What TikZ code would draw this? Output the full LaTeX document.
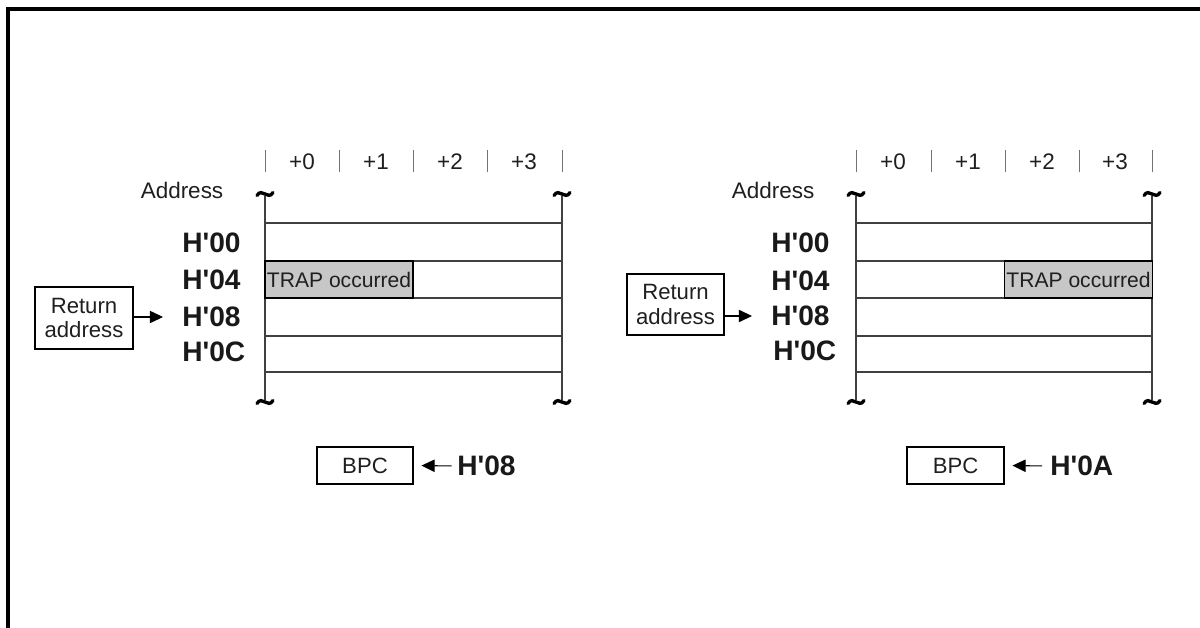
\documentclass[tikz,border=0pt]{standalone}
\usepackage{fontspec}
\setmainfont{Liberation Sans}
\usetikzlibrary{arrows.meta}
\newcommand{\hx}[1]{H\textquotesingle#1}
\begin{document}
\begin{tikzpicture}[x=0.02cm,y=-0.02cm,>={Triangle[length=7.5pt,width=7pt]},
	memline/.style={line width=0.6pt,black!75},
	colmark/.style={line width=0.5pt,black!55},
	wave/.style={line width=1.9pt,line cap=round},
	txt/.style={font=\fontsize{12.8}{14.2}\selectfont,inner sep=0pt,text=black!88},
	hexval/.style={font=\fontsize{16}{18}\selectfont\bfseries,inner sep=0pt,anchor=west,text=black!90},
	framebox/.style={draw,line width=0.6pt,inner sep=0pt,font=\fontsize{12.6}{14.2}\selectfont,align=center,text=black!88},
	trapbox/.style={draw,line width=0.8pt,fill=black!22,inner sep=0pt,minimum width=2.96cm,minimum height=0.74cm,font=\fontsize{12}{13}\selectfont,text=black!88}]
		\clip (0,0) rectangle (1200,628);
		\draw[line width=2pt] (8,9) rectangle (1230,660);
		% left memory map
		\foreach \x in {265,339,413,487,562} \draw[colmark] (\x,150)--(\x,172);
		\foreach \x/\t in {302/+0,376/+1,450/+2,524/+3} \node[txt] (colL\t) at (\x,162) {\t};
		\draw[memline] (265,196)--(265,400) (562,196)--(562,400);
		\foreach \y in {223,261,298,336,372} \draw[memline] (265,\y)--(562,\y);
		\foreach \x/\y in {265/194,562/194,265/402,562/402}
			\draw[wave] (\x-8,\y+1.5) .. controls (\x-3,\y-7) and (\x+3,\y+7) .. (\x+8,\y-1.5);
		\node[trapbox] (trapL) at (339,279.5) {TRAP occurred};
		\node[txt] (addrL) at (182,190) {Address};
		\node[hexval] (h00L) at (182,243) {\hx{00}};
		\node[hexval] (h04L) at (182,280) {\hx{04}};
		\node[hexval] (h08L) at (182,317) {\hx{08}};
		\node[hexval] (h0cL) at (182,352) {\hx{0C}};
		\node[framebox,minimum width=1.96cm,minimum height=1.24cm] (retL) at (84,318) {Return\\address};
		\draw[->,line width=0.6pt,shorten >=10.8pt] (retL.east |- h08L.west)--(h08L.west);
		\node[framebox,minimum width=1.92cm,minimum height=0.74cm] (bpcL) at (365,465.5) {BPC};
		\node[hexval] (valL) at (457,466) {\hx{08}};
		\draw[->,line width=0.6pt,shorten <=3pt,shorten >=4.5pt] (valL.west)--(bpcL.east);
		% right memory map
		\foreach \x in {856,931,1005,1079,1152} \draw[colmark] (\x,150)--(\x,172);
		\foreach \x/\t in {893/+0,968/+1,1042/+2,1115/+3} \node[txt] (colR\t) at (\x,162) {\t};
		\draw[memline] (856,196)--(856,400) (1152,196)--(1152,400);
		\foreach \y in {223,261,298,336,372} \draw[memline] (856,\y)--(1152,\y);
		\foreach \x/\y in {856/194,1152/194,856/402,1152/402}
			\draw[wave] (\x-8,\y+1.5) .. controls (\x-3,\y-7) and (\x+3,\y+7) .. (\x+8,\y-1.5);
		\node[trapbox] (trapR) at (1078.5,279.5) {TRAP occurred};
		\node[txt] (addrR) at (773,190) {Address};
		\node[hexval] (h00R) at (771,243) {\hx{00}};
		\node[hexval] (h04R) at (771,281) {\hx{04}};
		\node[hexval] (h08R) at (771,316) {\hx{08}};
		\node[hexval] (h0cR) at (773,351) {\hx{0C}};
		\node[framebox,minimum width=1.94cm,minimum height=1.22cm] (retR) at (675.5,304.5) {Return\\address};
		\draw[->,line width=0.6pt,shorten >=10.8pt] (retR.east |- h08R.west)--(h08R.west);
		\node[framebox,minimum width=1.94cm,minimum height=0.74cm] (bpcR) at (955.5,465.5) {BPC};
		\node[hexval] (valR) at (1050,466) {\hx{0A}};
		\draw[->,line width=0.6pt,shorten <=4.5pt,shorten >=4.5pt] (valR.west)--(bpcR.east);
\end{tikzpicture}
\end{document}
